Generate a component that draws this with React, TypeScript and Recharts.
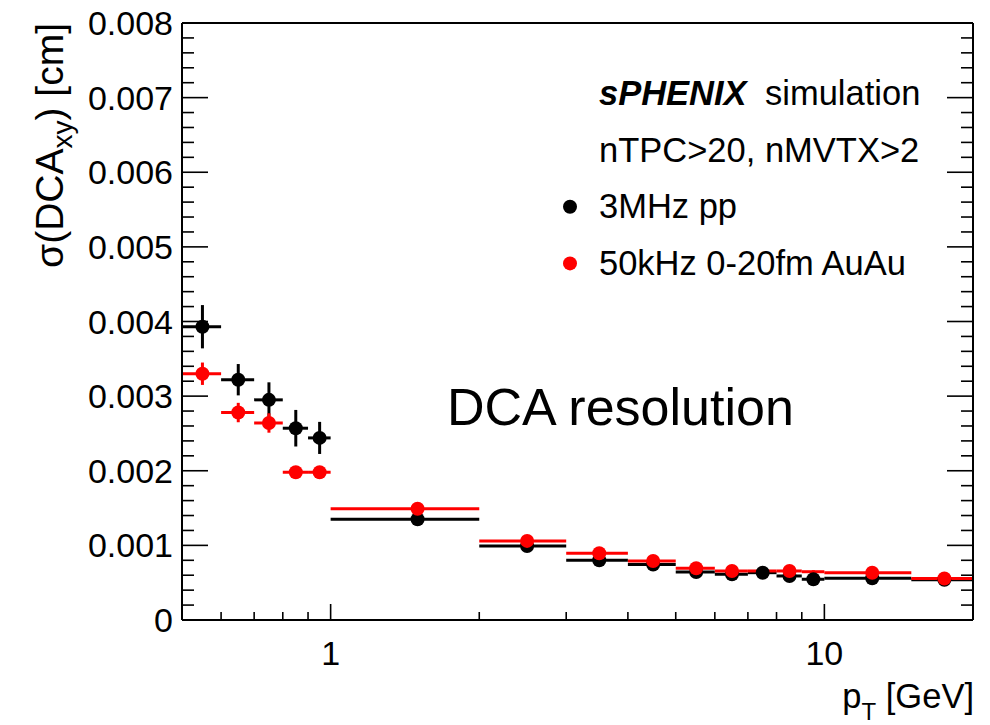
import React from "react";
import { ScatterChart, Scatter, XAxis, YAxis, ErrorBar, Legend, Customized } from "recharts";

const FONT = "'Liberation Sans', Arial, Helvetica, sans-serif";

// pT bins [GeV]
const binLow = [0.5, 0.6, 0.7, 0.8, 0.9, 1, 2, 3, 4, 5, 6, 7, 8, 9, 10, 15];
const binHigh = [0.6, 0.7, 0.8, 0.9, 1, 2, 3, 4, 5, 6, 7, 8, 9, 10, 15, 20];

// 3MHz pp
const ppSigma = [
  0.00393, 0.00322, 0.00295, 0.00257, 0.00244, 0.00135, 0.00099, 0.0008,
  0.000744, 0.000643, 0.000613, 0.000634, 0.00059, 0.000546, 0.00056, 0.00054,
];
const ppErr = [
  0.00029, 0.00021, 0.000235, 0.000245, 0.000215, 0.00003, 0.00002, 0.00002,
  0.00002, 0.00002, 0.00002, 0.00002, 0.00002, 0.00002, 0.00002, 0.00002,
];

// 50kHz 0-20fm AuAu
const auauSigma = [
  0.0033, 0.00278, 0.00264, 0.00198, 0.00198, 0.00149, 0.00106, 0.000894,
  0.00079, 0.000693, 0.000657, 0.000657, 0.000657, 0.000647, 0.000634, 0.000556,
];
const auauErr = [
  0.00015, 0.00013, 0.00013, 0.00003, 0.00003, 0.00003, 0.00002, 0.00002,
  0.00002, 0.00002, 0.00002, 0.00002, 0.00002, 0.00002, 0.00002, 0.00002,
];
// bins (low edge) where the AuAu marker is not drawn
const auauNoMarker = [7, 9];

const xMajorTicks = [1, 10];
const xTickLabels = ["1", "10"];
const xMinorTicks = [0.6, 0.7, 0.8, 0.9, 2, 3, 4, 5, 6, 7, 8, 9];
const yMajorTicks = [0, 0.001, 0.002, 0.003, 0.004, 0.005, 0.006, 0.007, 0.008];
const yTickLabels = ["0", "0.001", "0.002", "0.003", "0.004", "0.005", "0.006", "0.007", "0.008"];

const xTicks = [...xMinorTicks, ...xMajorTicks].sort((a, b) => a - b);
const yTicks = yMajorTicks.flatMap((v, i) =>
  i === yMajorTicks.length - 1 ? [v] : [0, 1, 2, 3, 4].map((k) => v + k * 0.0002)
);

const makeRows = (sig: number[], err: number[]) =>
  binLow.map((lo, i) => {
    const hi = binHigh[i];
    const c = (lo + hi) / 2;
    return { pt: c, lo, sigma: sig[i], ptErr: [c - lo, hi - c], sigmaErr: err[i] };
  });

const ppRows = makeRows(ppSigma, ppErr);
const auauRows = makeRows(auauSigma, auauErr);

const majorIndex = (list: number[], v: number) => list.findIndex((m) => Math.abs(m - v) < 1e-9);

const BottomTick = (props: any) => {
  const { x, y, payload } = props;
  const i = majorIndex(xMajorTicks, payload.value);
  return (
    <g>
      <line x1={x} x2={x} y1={y} y2={y - (i >= 0 ? 16 : 8)} stroke="#000" strokeWidth={1.6} />
      {i >= 0 && (
        <text x={x} y={y + 45} textAnchor="middle" fontSize={34} fontFamily={FONT} fill="#000">
          {xTickLabels[i]}
        </text>
      )}
    </g>
  );
};

const TopTick = (props: any) => {
  const { x, y, payload } = props;
  const major = majorIndex(xMajorTicks, payload.value) >= 0;
  return <line x1={x} x2={x} y1={y} y2={y + (major ? 16 : 8)} stroke="#000" strokeWidth={1.6} />;
};

const LeftTick = (props: any) => {
  const { x, y, payload } = props;
  const i = majorIndex(yMajorTicks, payload.value);
  return (
    <g>
      <line x1={x} x2={x + (i >= 0 ? 26 : 12)} y1={y} y2={y} stroke="#000" strokeWidth={1.6} />
      {i >= 0 && (
        <text x={x - 9} y={y + 12} textAnchor="end" fontSize={34} fontFamily={FONT} fill="#000">
          {yTickLabels[i]}
        </text>
      )}
    </g>
  );
};

const RightTick = (props: any) => {
  const { x, y, payload } = props;
  const major = majorIndex(yMajorTicks, payload.value) >= 0;
  return <line x1={x} x2={x - (major ? 26 : 12)} y1={y} y2={y} stroke="#000" strokeWidth={1.6} />;
};

const marker = (color: string, skip: number[]) => (p: any) =>
  skip.includes(p.payload?.lo) ? <g /> : <circle cx={p.cx} cy={p.cy} r={7} fill={color} />;

const noMarker = () => <g />;

const renderLegend = (props: any) => {
  const items = (props.payload || []).filter((p: any) => p.type !== "none");
  return (
    <svg width={420} height={230} style={{ display: "block" }}>
      <g fontFamily={FONT} fontSize={34.5} fill="#000">
        <text x={59} y={45} fontWeight="bold" fontStyle="italic">sPHENIX</text>
        <text x={225} y={45}>simulation</text>
        <text x={59} y={101.7}>nTPC&gt;20, nMVTX&gt;2</text>
        {items.map((it: any, i: number) => (
          <g key={it.value}>
            <circle cx={30} cy={146.7 + i * 56.7} r={7} fill={it.color} />
            <text x={59} y={158.3 + i * 56.7}>{it.value}</text>
          </g>
        ))}
      </g>
    </svg>
  );
};

const Annotations = () => (
  <g fontFamily={FONT} fill="#000">
    <text x={447} y={425} fontSize={52}>DCA resolution</text>
    <text transform="translate(63,23) rotate(-90)" textAnchor="end" fontSize={39}>
      σ(DCA<tspan fontSize={28} dy={9}>xy</tspan>
      <tspan dy={-9}>) [cm]</tspan>
    </text>
    <text x={974} y={708} textAnchor="end" fontSize={34.5}>
      p<tspan fontSize={24} dy={12}>T</tspan>
      <tspan dy={-12}> [GeV]</tspan>
    </text>
  </g>
);

export default function App() {
  return (
    <div style={{ position: "absolute", left: 0, top: 0, background: "#fff" }}>
      <ScatterChart width={990} height={725} margin={{ top: 0, right: 0, bottom: 0, left: 0 }}>
        <XAxis
          xAxisId="b"
          dataKey="pt"
          type="number"
          scale="log"
          domain={[0.5, 20]}
          allowDataOverflow
          ticks={xTicks}
          interval={0}
          height={105}
          tickSize={0}
          tickMargin={0}
          tickLine={false}
          tick={BottomTick}
          axisLine={{ stroke: "#000", strokeWidth: 2 }}
        />
        <XAxis
          xAxisId="t"
          orientation="top"
          type="number"
          scale="log"
          domain={[0.5, 20]}
          allowDataOverflow
          ticks={xTicks}
          interval={0}
          height={23}
          tickSize={0}
          tickMargin={0}
          tickLine={false}
          tick={TopTick}
          axisLine={{ stroke: "#000", strokeWidth: 2 }}
        />
        <YAxis
          yAxisId="l"
          dataKey="sigma"
          type="number"
          domain={[0, 0.008]}
          allowDataOverflow
          ticks={yTicks}
          interval={0}
          width={182}
          tickSize={0}
          tickMargin={0}
          tickLine={false}
          tick={LeftTick}
          axisLine={{ stroke: "#000", strokeWidth: 2 }}
        />
        <YAxis
          yAxisId="r"
          orientation="right"
          type="number"
          domain={[0, 0.008]}
          allowDataOverflow
          ticks={yTicks}
          interval={0}
          width={17}
          tickSize={0}
          tickMargin={0}
          tickLine={false}
          tick={RightTick}
          axisLine={{ stroke: "#000", strokeWidth: 2 }}
        />
        <Scatter data={ppRows} xAxisId="b" yAxisId="l" shape={noMarker} legendType="none" isAnimationActive={false}>
          <ErrorBar dataKey="ptErr" direction="x" width={0} stroke="#000" strokeWidth={3} isAnimationActive={false} />
          <ErrorBar dataKey="sigmaErr" direction="y" width={0} stroke="#000" strokeWidth={3} isAnimationActive={false} />
        </Scatter>
        <Scatter data={auauRows} xAxisId="b" yAxisId="l" shape={noMarker} legendType="none" isAnimationActive={false}>
          <ErrorBar dataKey="ptErr" direction="x" width={0} stroke="#ff0000" strokeWidth={3} isAnimationActive={false} />
          <ErrorBar dataKey="sigmaErr" direction="y" width={0} stroke="#ff0000" strokeWidth={3} isAnimationActive={false} />
        </Scatter>
        <Scatter
          name="3MHz pp"
          data={ppRows}
          xAxisId="b"
          yAxisId="l"
          fill="#000"
          shape={marker("#000", [])}
          isAnimationActive={false}
        />
        <Scatter
          name="50kHz 0-20fm AuAu"
          data={auauRows}
          xAxisId="b"
          yAxisId="l"
          fill="#ff0000"
          shape={marker("#ff0000", auauNoMarker)}
          isAnimationActive={false}
        />
        <Legend
          layout="vertical"
          align="center"
          verticalAlign="middle"
          content={renderLegend}
          wrapperStyle={{ left: 540, top: 60, width: 420, height: 230 }}
        />
        <Customized component={Annotations} />
      </ScatterChart>
    </div>
  );
}
